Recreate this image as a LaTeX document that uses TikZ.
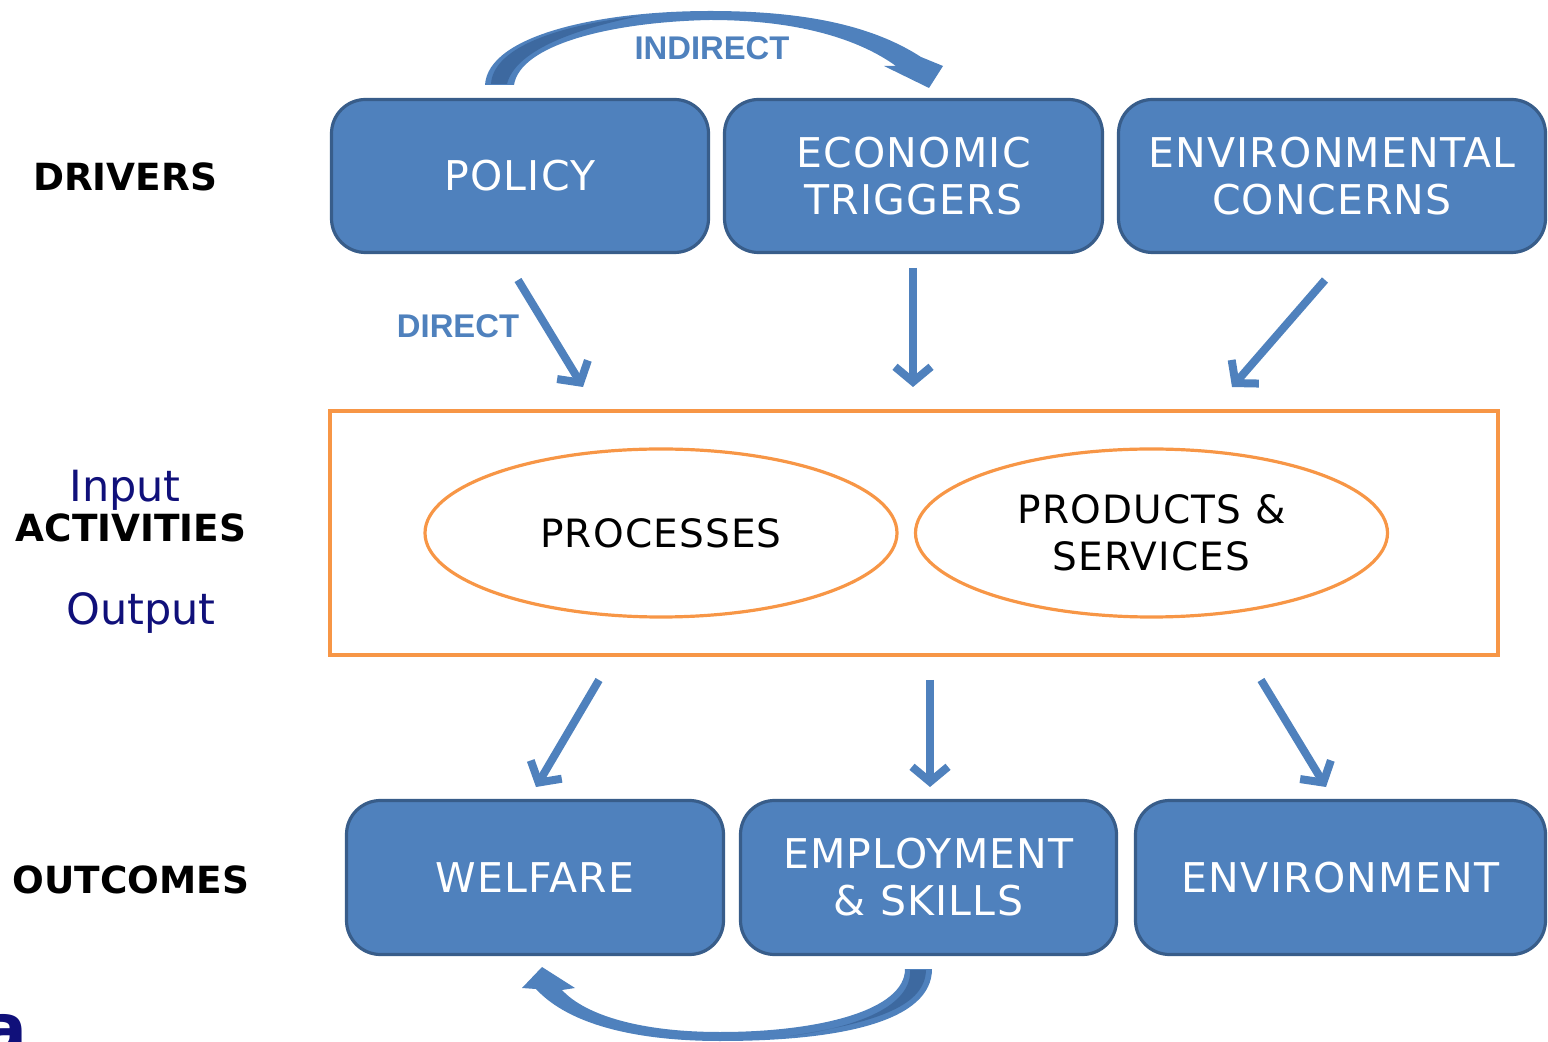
\documentclass[tikz,border=0pt]{standalone}
\usepackage{fontspec}
\setmainfont{DejaVu Sans}
\newfontfamily\arialfont{Liberation Sans}
\newfontfamily\boxfont{DejaVu Sans}[LetterSpace=3]
\usetikzlibrary{shapes.geometric,arrows.meta}
\definecolor{boxblue}{HTML}{4F81BD}
\definecolor{boxedge}{HTML}{385D8A}
\definecolor{darkblue}{HTML}{3D69A0}
\definecolor{orangeline}{HTML}{F79646}
\definecolor{navy}{HTML}{10107A}
\tikzset{
  box/.style={draw=boxedge, line width=1.6pt, fill=boxblue, rounded corners=17pt,
    text=white, align=center, inner sep=0pt,
    font=\boxfont\fontsize{20.5}{23.5}\selectfont},
  oval/.style={ellipse, draw=orangeline, line width=1.6pt, inner sep=0pt,
    minimum width=236pt, minimum height=84pt, align=center,
    font=\boxfont\fontsize{19.5}{23.5}\selectfont},
  flow/.style={draw=boxblue, line width=4pt,
    -{Straight Barb[length=7.5pt,width=18pt]}},
  rowlabel/.style={font=\bfseries\fontsize{18.7}{20}\selectfont, text=black},
  iolabel/.style={font=\fontsize{21.5}{24}\selectfont, text=navy},
  linklabel/.style={font=\arialfont\bfseries\fontsize{16.4}{18}\selectfont, text=boxblue},
}
\begin{document}
\begin{tikzpicture}[x=0.5pt,y=-0.5pt]
\useasboundingbox (0,0) rectangle (1548,1042);

% partial letter at bottom-left
\node[anchor=north east, inner sep=0pt, text=navy, font=\bfseries\fontsize{34}{36}\selectfont] (frag) at (28,1014) {a};

% row labels
\node[rowlabel] (drivers) at (125,177) {DRIVERS};
\node[iolabel] (input) at (125,490) {Input};
\node[rowlabel] (activities) at (131,528) {ACTIVITIES};
\node[iolabel] (output) at (141,613) {Output};
\node[rowlabel] (outcomes) at (131,880) {OUTCOMES};

% driver boxes
\node[box, minimum width=188.5pt, minimum height=76.5pt] (policy) at (520,176) {POLICY};
\node[box, minimum width=189pt, minimum height=76.5pt] (econ) at (913.5,176) {ECONOMIC\\TRIGGERS};
\node[box, minimum width=213.5pt, minimum height=76.5pt] (envc) at (1332,176) {ENVIRONMENTAL\\CONCERNS};

% outcome boxes
\node[box, minimum width=188.5pt, minimum height=77pt] (welfare) at (535,877.5) {WELFARE};
\node[box, minimum width=188pt, minimum height=77pt] (employ) at (928.5,877.5) {EMPLOYMENT\\\& SKILLS};
\node[box, minimum width=205pt, minimum height=77pt] (environ) at (1340.5,877.5) {ENVIRONMENT};

% activities frame
\node[draw=orangeline, line width=1.6pt, minimum width=584pt, minimum height=122pt, inner sep=0pt] (frame) at (914,533) {};
\node[oval] (processes) at (661,533) {PROCESSES};
\node[oval] (products) at (1151.5,533) {PRODUCTS \&\\SERVICES};

% straight arrows
\coordinate (a1s) at (518,280);  \coordinate (a1e) at (583,387);
\coordinate (a2s) at (913,268);  \coordinate (a2e) at (913,387);
\coordinate (a3s) at (1325,280); \coordinate (a3e) at (1232,387);
\coordinate (b1s) at (599,680);  \coordinate (b1e) at (536,787);
\coordinate (b2s) at (930,680);  \coordinate (b2e) at (930,787);
\coordinate (b3s) at (1261,680); \coordinate (b3e) at (1326,787);
\draw[flow] (a1s) -- (a1e);
\draw[flow] (a2s) -- (a2e);
\draw[flow] (a3s) -- (a3e);
\draw[flow] (b1s) -- (b1e);
\draw[flow] (b2s) -- (b2e);
\draw[flow] (b3s) -- (b3e);

\node[linklabel] (direct) at (458,326) {DIRECT};

% curved arrow: indirect (top)
\fill[boxblue] (485,85) -- (514,85)
  .. controls (520,45) and (610,22) .. (710,20)
  .. controls (800,20) and (860,40) .. (896,66)
  -- (884,66) -- (929,88) -- (943,66) -- (921,57)
  .. controls (870,24) and (800,11) .. (710,11)
  .. controls (600,11) and (488,35) .. (485,85) -- cycle;
\fill[darkblue] (491,84)
  .. controls (493,50) and (550,26) .. (640,16)
  .. controls (570,30) and (515,52) .. (507,84) -- cycle;
\node[linklabel] (indirect) at (712,48) {INDIRECT};

% curved arrow: bottom
\fill[boxblue] (905,969)
  .. controls (905,1010) and (820,1032) .. (720,1032)
  .. controls (640,1032) and (585,1015) .. (562,990)
  -- (575,988) -- (542,967) -- (522,988) -- (536,989)
  .. controls (570,1026) and (640,1041) .. (720,1041)
  .. controls (845,1041) and (932,1020) .. (932,969) -- cycle;
\fill[darkblue] (910,970)
  .. controls (912,1005) and (860,1027) .. (790,1036)
  .. controls (880,1022) and (925,1005) .. (926,970) -- cycle;
\end{tikzpicture}
\end{document}
